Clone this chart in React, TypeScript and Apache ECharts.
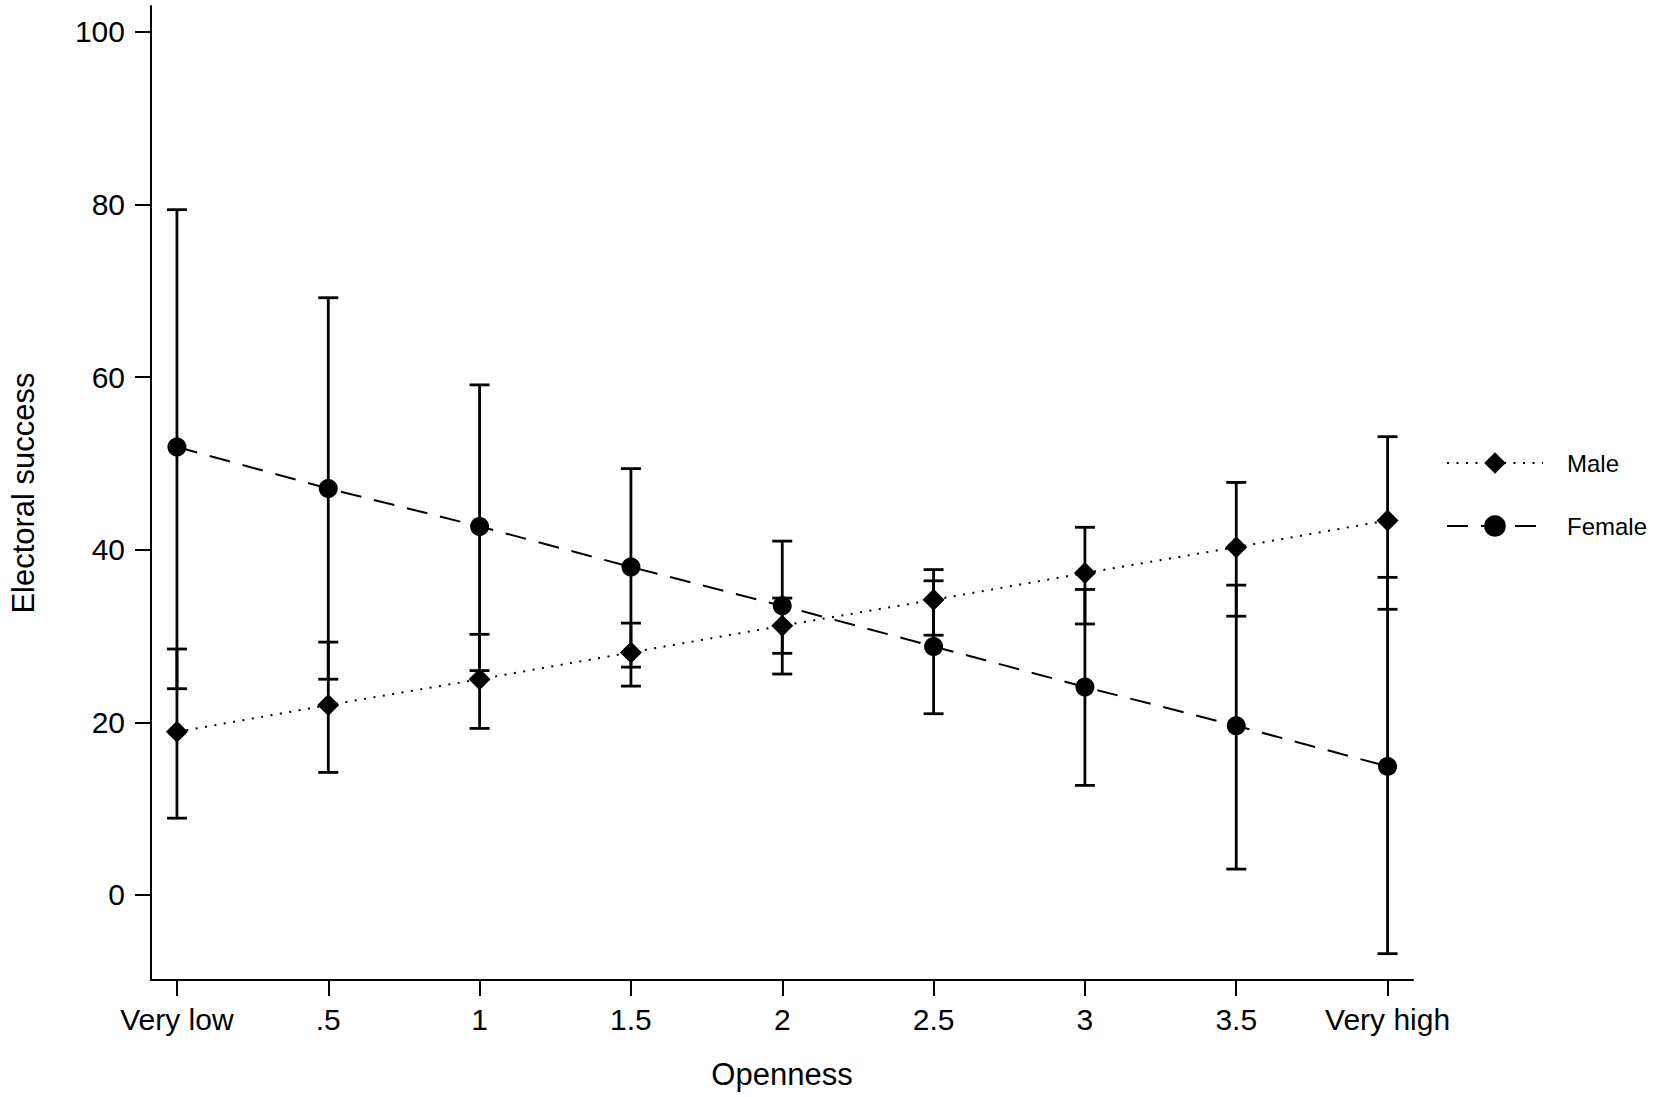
import React, { useEffect, useRef } from "react";
import * as echarts from "echarts";

const xValues = [0, 0.5, 1, 1.5, 2, 2.5, 3, 3.5, 4];
const xTickLabels = ["Very low", ".5", "1", "1.5", "2", "2.5", "3", "3.5", "Very high"];
const yTicks = [0, 20, 40, 60, 80, 100];

const maleMean = [18.9, 22.0, 25.0, 28.1, 31.2, 34.2, 37.3, 40.3, 43.4];
const maleLow = [8.9, 14.2, 19.3, 24.2, 28.0, 30.1, 31.4, 32.3, 33.1];
const maleHigh = [28.5, 29.3, 30.2, 31.5, 34.4, 37.7, 42.6, 47.8, 53.1];

const femaleMean = [51.9, 47.1, 42.7, 38.0, 33.5, 28.8, 24.1, 19.6, 14.9];
const femaleLow = [23.9, 25.0, 26.0, 26.4, 25.6, 21.0, 12.7, 3.0, -6.8];
const femaleHigh = [79.4, 69.2, 59.1, 49.4, 41.0, 36.4, 35.4, 35.9, 36.8];

const FONT = "'Liberation Sans', Arial, Helvetica, sans-serif";

function errorBarRender(params: any, api: any) {
  const x = api.value(0);
  const lo = api.value(1);
  const hi = api.value(2);
  const pLo = api.coord([x, lo]);
  const pHi = api.coord([x, hi]);
  const hw = 10;
  const style = { stroke: "#000", lineWidth: 2.8, fill: "none" };
  return {
    type: "group",
    children: [
      { type: "line", shape: { x1: pLo[0], y1: pLo[1], x2: pHi[0], y2: pHi[1] }, style },
      { type: "line", shape: { x1: pLo[0] - hw, y1: pLo[1], x2: pLo[0] + hw, y2: pLo[1] }, style },
      { type: "line", shape: { x1: pHi[0] - hw, y1: pHi[1], x2: pHi[0] + hw, y2: pHi[1] }, style },
    ],
  };
}

export default function App() {
  const ref = useRef<HTMLDivElement>(null);

  useEffect(() => {
    if (!ref.current) return;
    const chart = echarts.init(ref.current, null, { renderer: "svg" });

    const maleBars = xValues.map((x, i) => [x, maleLow[i], maleHigh[i]]);
    const femaleBars = xValues.map((x, i) => [x, femaleLow[i], femaleHigh[i]]);

    chart.setOption({
      animation: false,
      backgroundColor: "#fff",
      textStyle: { fontFamily: FONT, color: "#000" },
      grid: { left: 148, right: 241, top: 6, bottom: 117, containLabel: false },
      legend: {
        orient: "vertical",
        left: 1446,
        top: 451,
        padding: 0,
        itemWidth: 96,
        itemHeight: 27,
        itemGap: 39,
        data: ["Male", "Female"],
        textStyle: { fontSize: 24, color: "#000", fontFamily: FONT, padding: [0, 0, 0, 19] },
        inactiveColor: "#000",
        selectedMode: false,
      },
      xAxis: {
        type: "value",
        min: -0.0857,
        max: 4.084,
        name: "Openness",
        nameLocation: "middle",
        nameGap: 79,
        nameTextStyle: { fontSize: 31, color: "#000", fontFamily: FONT },
        axisLine: { show: true, onZero: false, lineStyle: { color: "#000", width: 2 } },
        axisTick: {
          show: true,
          customValues: xValues,
          length: 16,
          inside: false,
          lineStyle: { color: "#000", width: 2 },
        },
        axisLabel: {
          customValues: xValues,
          margin: 24,
          fontSize: 30,
          color: "#000",
          fontFamily: FONT,
          formatter: (v: number) => {
            const idx = xValues.findIndex((t) => Math.abs(t - v) < 1e-6);
            return idx >= 0 ? xTickLabels[idx] : "";
          },
        },
        splitLine: { show: false },
      },
      yAxis: {
        type: "value",
        min: -9.85,
        max: 103,
        name: "Electoral success",
        nameLocation: "middle",
        nameGap: 112,
        nameTextStyle: { fontSize: 31, color: "#000", fontFamily: FONT },
        axisLine: { show: true, onZero: false, lineStyle: { color: "#000", width: 2 } },
        axisTick: {
          show: true,
          customValues: yTicks,
          length: 16,
          inside: false,
          lineStyle: { color: "#000", width: 2 },
        },
        axisLabel: {
          customValues: yTicks,
          margin: 26,
          fontSize: 30,
          color: "#000",
          fontFamily: FONT,
          formatter: (v: number) => String(Math.round(v)),
        },
        splitLine: { show: false },
      },
      series: [
        {
          type: "custom",
          name: "Male CI",
          renderItem: errorBarRender,
          encode: { x: 0, y: [1, 2] },
          data: maleBars,
          z: 2,
          silent: true,
        },
        {
          type: "custom",
          name: "Female CI",
          renderItem: errorBarRender,
          encode: { x: 0, y: [1, 2] },
          data: femaleBars,
          z: 2,
          silent: true,
        },
        {
          type: "line",
          name: "Male",
          data: xValues.map((x, i) => [x, maleMean[i]]),
          symbol: "diamond",
          symbolSize: 22,
          showAllSymbol: true,
          itemStyle: { color: "#000", borderWidth: 0 },
          lineStyle: { color: "#000", width: 2, type: [2, 7.5] },
          z: 3,
        },
        {
          type: "line",
          name: "Female",
          data: xValues.map((x, i) => [x, femaleMean[i]]),
          symbol: "circle",
          symbolSize: 19,
          showAllSymbol: true,
          itemStyle: { color: "#000", borderWidth: 0 },
          lineStyle: { color: "#000", width: 2, type: [21, 13] },
          z: 3,
        },
      ],
    });

    return () => chart.dispose();
  }, []);

  return (
    <div
      ref={ref}
      style={{ position: "fixed", left: 0, top: 0, width: 1654, height: 1097, background: "#fff" }}
    />
  );
}
